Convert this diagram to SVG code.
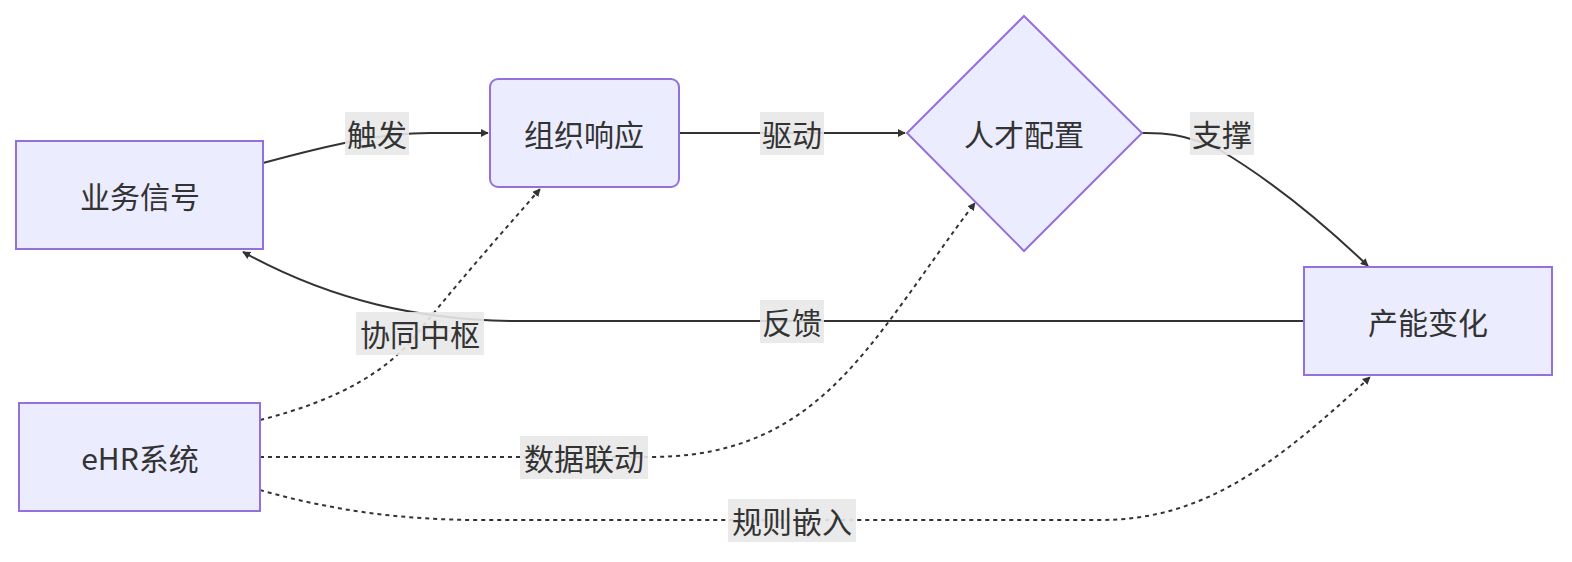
<svg xmlns="http://www.w3.org/2000/svg" width="1572" height="562" viewBox="0 0 1572 562">
<style>
.n{fill:#ECECFF;stroke:#9370DB;stroke-width:2}
.t{font-family:"Noto Sans CJK SC","Liberation Sans",sans-serif;font-size:30px;fill:#333;text-anchor:middle;dominant-baseline:central}
.e{fill:none;stroke:#333;stroke-width:2}
.d{stroke-dasharray:4 4}
.lb{fill:#e8e8e8;opacity:0.9}
</style>
<defs>
<marker id="a" viewBox="0 0 10 10" refX="9" refY="5" markerWidth="8" markerHeight="8" orient="auto" markerUnits="userSpaceOnUse" ><path d="M0,0L10,5L0,10z" fill="#333"/></marker>
</defs>
<rect width="1572" height="562" fill="#fff"/>
<g id="edges">
<path class="e" d="M263,163 C330,145 380,133 430,133 L488,133" marker-end="url(#a)" transform="scale(1)"/>
<path class="e" d="M679,133 L905,133" marker-end="url(#a)"/>
<path class="e" d="M1142,133 C1160,133 1180,132 1220,150 C1270,180 1320,220 1368,266" marker-end="url(#a)"/>
<path class="e" d="M1304,321 L520,321 C420,321 330,300 243,252" marker-end="url(#a)"/>
<path class="e d" d="M260,420 C340,400 390,370 420,330 C460,280 500,235 540,189" marker-end="url(#a)"/>
<path class="e d" d="M260,457 L650,457 C770,457 830,400 890,320 C920,280 950,235 975,203" marker-end="url(#a)"/>
<path class="e d" d="M260,490 C330,510 400,520 480,520 L1100,520 C1200,520 1270,470 1370,377" marker-end="url(#a)"/>
<rect class="lb" x="345" y="112" width="64" height="43"/><text class="t" x="377" y="133">触发</text>
<rect class="lb" x="760" y="112" width="64" height="43"/><text class="t" x="792" y="133">驱动</text>
<rect class="lb" x="1190" y="112" width="64" height="43"/><text class="t" x="1222" y="133">支撑</text>
<rect class="lb" x="760" y="300" width="64" height="43"/><text class="t" x="792" y="321">反馈</text>
<rect class="lb" x="356" y="312" width="128" height="43"/><text class="t" x="420" y="333">协同中枢</text>
<rect class="lb" x="520" y="436" width="128" height="43"/><text class="t" x="584" y="457">数据联动</text>
<rect class="lb" x="728" y="499" width="128" height="43"/><text class="t" x="792" y="520">规则嵌入</text>
</g>
<g id="n1"><rect class="n" x="16" y="141" width="247" height="108"/><text class="t" x="140" y="195">业务信号</text></g>
<g id="n2"><rect class="n" x="490" y="79" width="189" height="108" rx="8"/><text class="t" x="584" y="133">组织响应</text></g>
<g id="n3"><polygon class="n" points="1024,16 1142,133 1024,251 907,133"/><text class="t" x="1024" y="133">人才配置</text></g>
<g id="n4"><rect class="n" x="1304" y="267" width="248" height="108"/><text class="t" x="1428" y="321">产能变化</text></g>
<g id="n5"><rect class="n" x="19" y="403" width="241" height="108"/><text class="t" x="140" y="457">eHR系统</text></g>
</svg>
